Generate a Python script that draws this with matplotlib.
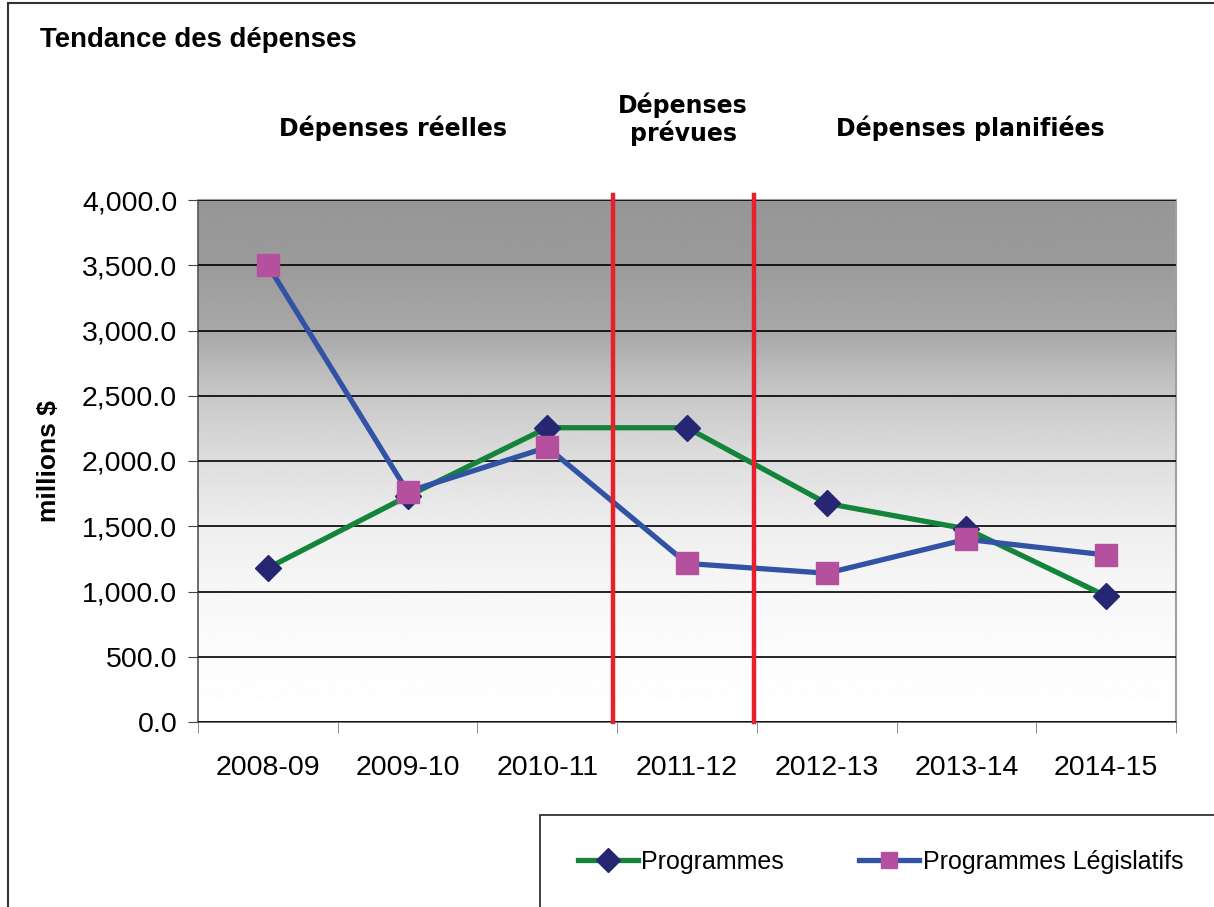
import numpy as np
import matplotlib.pyplot as plt
from matplotlib.patches import Rectangle
from matplotlib.lines import Line2D

years = ['2008-09', '2009-10', '2010-11', '2011-12', '2012-13', '2013-14', '2014-15']
programmes = [1180, 1730, 2255, 2255, 1675, 1480, 965]
legislatifs = [3500, 1765, 2105, 1215, 1140, 1400, 1280]
yticks = [0, 500, 1000, 1500, 2000, 2500, 3000, 3500, 4000]

plt.rcParams['font.family'] = 'Liberation Sans'

fig = plt.figure(figsize=(12.14, 9.07), dpi=100)
ax = fig.add_axes([198 / 1214, 1 - 722 / 907, 978 / 1214, 522 / 907])

# grey-to-white background gradient of the plot area
stops_f = [0.0, 0.125, 0.25, 0.375, 0.5, 0.625, 0.75, 0.875, 1.0]
stops_g = [255, 252, 247, 238, 222, 200, 168, 155, 150]
f = np.linspace(0, 1, 256)
g = np.interp(f, stops_f, stops_g) / 255.0
grad = np.repeat(g[:, None], 2, axis=1)
ax.imshow(grad, cmap='gray', vmin=0, vmax=1, origin='lower', aspect='auto',
          extent=[0, 1, 0, 1], transform=ax.transAxes, zorder=0)

x = np.arange(len(years))
ax.plot(x, programmes, color='#13843a', lw=3.8, marker='D', ms=13,
        mfc='#262673', mec='#262673', zorder=3, label='Programmes')
ax.plot(x, legislatifs, color='#3152a5', lw=3.8, marker='s', ms=15.5,
        mfc='#b5509f', mec='#b5509f', zorder=4, label='Programmes Législatifs')

ax.set_xlim(-0.5, len(years) - 0.5)
ax.set_ylim(0, 4000)
ax.set_yticks(yticks)
ax.set_yticklabels([f'{v:,.1f}' for v in yticks], fontsize=20.5)
ax.set_xticks(x)
ax.set_xticklabels(years, fontsize=20.5)
ax.set_xticks(np.arange(-0.5, len(years)), minor=True)
ax.tick_params(axis='x', which='major', length=0, pad=24)
ax.tick_params(axis='x', which='minor', length=8, color='#777777')
ax.tick_params(axis='y', length=7, color='#444444', pad=8)
ax.grid(axis='y', color='black', lw=1.2, zorder=1)
ax.set_axisbelow(False)
for s in ['top', 'right']:
    ax.spines[s].set_color('#a0a0a0')
    ax.spines[s].set_linewidth(1.5)
for s in ['left', 'bottom']:
    ax.spines[s].set_color('#555555')
    ax.spines[s].set_linewidth(1.2)

ax.set_ylabel('millions $', fontsize=19, fontweight='bold', labelpad=15)

# separators between periods
for xv in [2.47, 3.48]:
    ax.plot([xv, xv], [0, 4040], color='#e8202a', lw=3.2, zorder=5, clip_on=False)

fig.text(40 / 1214, 1 - 40 / 907, 'Tendance des dépenses', fontsize=19.8,
         fontweight='bold', va='center', ha='left')
hd = dict(fontsize=17, fontweight='bold', family='DejaVu Sans', ha='center', va='center',
          linespacing=1.1)
fig.text(393 / 1214, 1 - 128 / 907, 'Dépenses réelles', **hd)
fig.text(683 / 1214, 1 - 119 / 907, 'Dépenses\nprévues', **hd)
fig.text(970 / 1214, 1 - 128 / 907, 'Dépenses planifiées', **hd)

# outer frame and legend box (cut off by the figure edges)
fig.patches.append(Rectangle((8 / 1214, -0.1), 1.2, 1.1 - 3 / 907, transform=fig.transFigure,
                             fill=False, ec='#333333', lw=1.5))
fig.patches.append(Rectangle((540 / 1214, -0.1), 1.0, 0.1 + 92 / 907, transform=fig.transFigure,
                             fill=False, ec='#333333', lw=1.3))

handles = [Line2D([], [], color='#13843a', lw=3.8, marker='D', ms=12, mfc='#262673', mec='#262673'),
           Line2D([], [], color='#3152a5', lw=3.8, marker='s', ms=12, mfc='#b5509f', mec='#b5509f')]
fig.legend(handles, ['Programmes', 'Programmes Législatifs'], ncol=2, frameon=False,
           loc='center left', bbox_to_anchor=(565 / 1214, 1 - 862 / 907), fontsize=18,
           handlelength=2.4, handletextpad=0.15, columnspacing=3.0, borderpad=0)

fig.savefig('out.png', dpi=100)
